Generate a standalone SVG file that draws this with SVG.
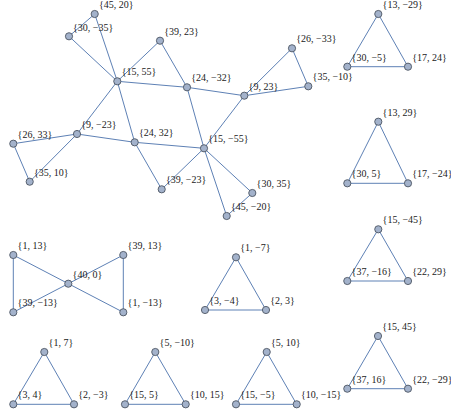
<svg xmlns="http://www.w3.org/2000/svg" width="451" height="419" viewBox="0 0 451 419">
<style>
.e{stroke:#5e81b5;stroke-width:1;fill:none}
.n circle{fill:#a3b2cb;stroke:#4d5663;stroke-width:0.9}
.n text{font-family:"Liberation Serif",serif;font-size:10px;fill:#222}
</style>
<rect width="451" height="419" fill="#fff"/>
<g id="connectors" class="e">
<line x1="94.7" y1="14" x2="69" y2="36.3"/>
<line x1="94.7" y1="14" x2="117.3" y2="81.3"/>
<line x1="69" y1="36.3" x2="117.3" y2="81.3"/>
<line x1="117.3" y1="81.3" x2="160" y2="40.7"/>
<line x1="160" y1="40.7" x2="187" y2="87.3"/>
<line x1="117.3" y1="81.3" x2="187" y2="87.3"/>
<line x1="117.3" y1="81.3" x2="77" y2="134"/>
<line x1="117.3" y1="81.3" x2="134.7" y2="142.3"/>
<line x1="187" y1="87.3" x2="244.3" y2="95.7"/>
<line x1="187" y1="87.3" x2="204" y2="148.3"/>
<line x1="244.3" y1="95.7" x2="292" y2="48.3"/>
<line x1="244.3" y1="95.7" x2="308.3" y2="86.3"/>
<line x1="292" y1="48.3" x2="308.3" y2="86.3"/>
<line x1="244.3" y1="95.7" x2="204" y2="148.3"/>
<line x1="77" y1="134" x2="13.3" y2="143.7"/>
<line x1="13.3" y1="143.7" x2="29.7" y2="181.7"/>
<line x1="77" y1="134" x2="29.7" y2="181.7"/>
<line x1="77" y1="134" x2="134.7" y2="142.3"/>
<line x1="134.7" y1="142.3" x2="204" y2="148.3"/>
<line x1="134.7" y1="142.3" x2="161.7" y2="189.3"/>
<line x1="204" y1="148.3" x2="161.7" y2="189.3"/>
<line x1="204" y1="148.3" x2="252.3" y2="193"/>
<line x1="204" y1="148.3" x2="226.7" y2="216"/>
<line x1="252.3" y1="193" x2="226.7" y2="216"/>
<path d="M378.3 14L347.3 66.7L408 66.7Z"/>
<path d="M378.3 121.7L347.3 183.3L408 183.3Z"/>
<path d="M378.3 229.3L347.3 281L408 281Z"/>
<path d="M378 336L347.3 388.7L408 388.7Z"/>
<path d="M236 257.3L205 310L266 310Z"/>
<path d="M44.3 352L13.3 404.3L74 404.3Z"/>
<path d="M155.3 352L125 404.3L185.7 404.3Z"/>
<path d="M266.7 352L236 404.3L296.7 404.3Z"/>
<line x1="13.3" y1="255" x2="13.3" y2="312.3"/>
<line x1="123.3" y1="255" x2="123.3" y2="312.3"/>
<line x1="13.3" y1="255" x2="123.3" y2="312.3"/>
<line x1="123.3" y1="255" x2="13.3" y2="312.3"/>
</g>
<g id="n45_20" class="n"><circle cx="94.7" cy="14" r="3.6"/><text x="99" y="8">{45, 20}</text></g>
<g id="n30_m35" class="n"><circle cx="69" cy="36.3" r="3.6"/><text x="73" y="30.5">{30, −35}</text></g>
<g id="n39_23" class="n"><circle cx="160" cy="40.7" r="3.6"/><text x="164.3" y="34.8">{39, 23}</text></g>
<g id="n15_55" class="n"><circle cx="117.3" cy="81.3" r="3.6"/><text x="121.7" y="75.4">{15, 55}</text></g>
<g id="n24_m32" class="n"><circle cx="187" cy="87.3" r="3.6"/><text x="191.3" y="81.4">{24, −32}</text></g>
<g id="n9_23" class="n"><circle cx="244.3" cy="95.7" r="3.6"/><text x="248.6" y="89.8">{9, 23}</text></g>
<g id="n26_m33" class="n"><circle cx="292" cy="48.3" r="3.6"/><text x="296.3" y="42.4">{26, −33}</text></g>
<g id="n35_m10" class="n"><circle cx="308.3" cy="86.3" r="3.6"/><text x="312.6" y="80.4">{35, −10}</text></g>
<g id="n26_33" class="n"><circle cx="13.3" cy="143.7" r="3.6"/><text x="17.6" y="137.8">{26, 33}</text></g>
<g id="n9_m23" class="n"><circle cx="77" cy="134" r="3.6"/><text x="81.3" y="128.1">{9, −23}</text></g>
<g id="n35_10" class="n"><circle cx="29.7" cy="181.7" r="3.6"/><text x="34" y="175.8">{35, 10}</text></g>
<g id="n24_32" class="n"><circle cx="134.7" cy="142.3" r="3.6"/><text x="139" y="136.4">{24, 32}</text></g>
<g id="n39_m23" class="n"><circle cx="161.7" cy="189.3" r="3.6"/><text x="166" y="183.4">{39, −23}</text></g>
<g id="n15_m55" class="n"><circle cx="204" cy="148.3" r="3.6"/><text x="208.3" y="142.4">{15, −55}</text></g>
<g id="n30_35" class="n"><circle cx="252.3" cy="193" r="3.6"/><text x="256.6" y="187.1">{30, 35}</text></g>
<g id="n45_m20" class="n"><circle cx="226.7" cy="216" r="3.6"/><text x="231" y="210.1">{45, −20}</text></g>
<g id="n13_m29" class="n"><circle cx="378.3" cy="14" r="3.6"/><text x="382.6" y="8.1">{13, −29}</text></g>
<g id="n30_m5" class="n"><circle cx="347.3" cy="66.7" r="3.6"/><text x="351.6" y="60.8">{30, −5}</text></g>
<g id="n17_24" class="n"><circle cx="408" cy="66.7" r="3.6"/><text x="412.3" y="60.8">{17, 24}</text></g>
<g id="n13_29" class="n"><circle cx="378.3" cy="121.7" r="3.6"/><text x="382.6" y="115.8">{13, 29}</text></g>
<g id="n30_5" class="n"><circle cx="347.3" cy="183.3" r="3.6"/><text x="351.6" y="177.4">{30, 5}</text></g>
<g id="n17_m24" class="n"><circle cx="408" cy="183.3" r="3.6"/><text x="412.3" y="177.4">{17, −24}</text></g>
<g id="n15_m45" class="n"><circle cx="378.3" cy="229.3" r="3.6"/><text x="382.6" y="223.4">{15, −45}</text></g>
<g id="n37_m16" class="n"><circle cx="347.3" cy="281" r="3.6"/><text x="351.6" y="275.1">{37, −16}</text></g>
<g id="n22_29" class="n"><circle cx="408" cy="281" r="3.6"/><text x="412.3" y="275.1">{22, 29}</text></g>
<g id="n15_45" class="n"><circle cx="378" cy="336" r="3.6"/><text x="382.3" y="330.1">{15, 45}</text></g>
<g id="n37_16" class="n"><circle cx="347.3" cy="388.7" r="3.6"/><text x="351.6" y="382.8">{37, 16}</text></g>
<g id="n22_m29" class="n"><circle cx="408" cy="388.7" r="3.6"/><text x="412.3" y="382.8">{22, −29}</text></g>
<g id="n1_13" class="n"><circle cx="13.3" cy="255" r="3.6"/><text x="17.6" y="249.1">{1, 13}</text></g>
<g id="n39_13" class="n"><circle cx="123.3" cy="255" r="3.6"/><text x="127.6" y="249.1">{39, 13}</text></g>
<g id="n40_0" class="n"><circle cx="68.3" cy="283.7" r="3.6"/><text x="72.6" y="277.8">{40, 0}</text></g>
<g id="n39_m13" class="n"><circle cx="13.3" cy="312.3" r="3.6"/><text x="17.6" y="306.4">{39, −13}</text></g>
<g id="n1_m13" class="n"><circle cx="123.3" cy="312.3" r="3.6"/><text x="127.6" y="306.4">{1, −13}</text></g>
<g id="n1_m7" class="n"><circle cx="236" cy="257.3" r="3.6"/><text x="240.3" y="251.4">{1, −7}</text></g>
<g id="n3_m4" class="n"><circle cx="205" cy="310" r="3.6"/><text x="209.3" y="304.1">{3, −4}</text></g>
<g id="n2_3" class="n"><circle cx="266" cy="310" r="3.6"/><text x="270.3" y="304.1">{2, 3}</text></g>
<g id="n1_7" class="n"><circle cx="44.3" cy="352" r="3.6"/><text x="48.6" y="346.1">{1, 7}</text></g>
<g id="n3_4" class="n"><circle cx="13.3" cy="404.3" r="3.6"/><text x="17.6" y="398.4">{3, 4}</text></g>
<g id="n2_m3" class="n"><circle cx="74" cy="404.3" r="3.6"/><text x="78.3" y="398.4">{2, −3}</text></g>
<g id="n5_m10" class="n"><circle cx="155.3" cy="352" r="3.6"/><text x="159.6" y="346.1">{5, −10}</text></g>
<g id="n15_5" class="n"><circle cx="125" cy="404.3" r="3.6"/><text x="129.3" y="398.4">{15, 5}</text></g>
<g id="n10_15" class="n"><circle cx="185.7" cy="404.3" r="3.6"/><text x="190" y="398.4">{10, 15}</text></g>
<g id="n5_10" class="n"><circle cx="266.7" cy="352" r="3.6"/><text x="271" y="346.1">{5, 10}</text></g>
<g id="n15_m5" class="n"><circle cx="236" cy="404.3" r="3.6"/><text x="240.3" y="398.4">{15, −5}</text></g>
<g id="n10_m15" class="n"><circle cx="296.7" cy="404.3" r="3.6"/><text x="301" y="398.4">{10, −15}</text></g>
</svg>
